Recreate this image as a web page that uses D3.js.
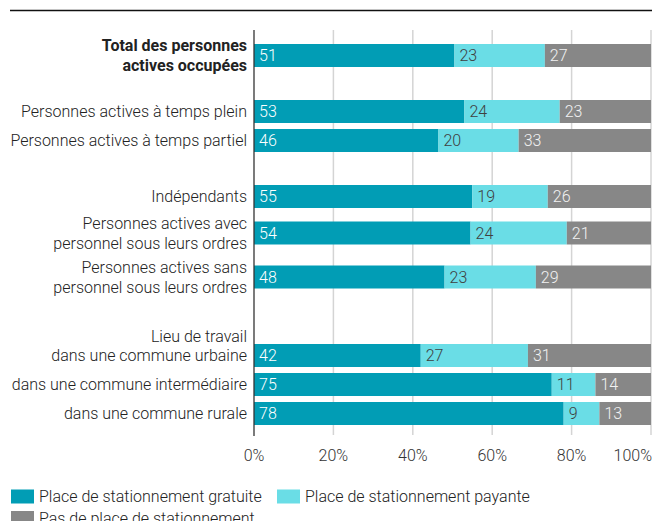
<!DOCTYPE html>
<html>
<head>
<meta charset="utf-8">
<script src="https://cdn.jsdelivr.net/npm/d3@7"></script>
<style>
  html, body { margin: 0; padding: 0; background: #fff; }
  svg { display: block; font-family: Roboto, "Noto Sans", sans-serif; }
</style>
</head>
<body>
<svg id="chart" width="655" height="521"></svg>
<script>
// Row labels (each entry is the list of text lines drawn left of the bar)
const categories = [
  "total", "plein", "partiel", "independants", "avec", "sans",
  "urbaine", "intermediaire", "rurale"
];
const labelLines = [
  ["Total des personnes", "actives occupées"],
  ["Personnes actives à temps plein"],
  ["Personnes actives à temps partiel"],
  ["Indépendants"],
  ["Personnes actives avec", "personnel sous leurs ordres"],
  ["Personnes actives sans", "personnel sous leurs ordres"],
  ["dans une commune urbaine"],
  ["dans une commune intermédiaire"],
  ["dans une commune rurale"]
];
// Optional header line printed above a row's label
const headerLines = [null, null, null, null, null, null, "Lieu de travail", null, null];
const groupOf = [0, 1, 1, 2, 2, 2, 3, 3, 3];

// Shares in percent
const gratuite = [51, 53, 46, 55, 54, 48, 42, 75, 78];
const payante  = [23, 24, 20, 19, 24, 23, 27, 11, 9];
const aucune   = [27, 23, 33, 26, 21, 29, 31, 14, 13];

const seriesKeys = ["gratuite", "payante", "aucune"];
const seriesNames = [
  "Place de stationnement gratuite",
  "Place de stationnement payante",
  "Pas de place de stationnement"
];
const xTicks = [0, 0.2, 0.4, 0.6, 0.8, 1];

// ---- style ----
const colors = { gratuite: "#019db5", payante: "#6adde6", aucune: "#878787" };
const valueColors = { gratuite: "#ffffff", payante: "#404040", aucune: "#f2f2f2" };
const fontSize = 16;

const svg = d3.select("#chart");
const left = 254, right = 651;
const barH = 23;

// ---- vertical layout: rows stacked with a gap between groups ----
const rowCenters = [];
{
  let cursor = 41;
  categories.forEach((c, i) => {
    if (i > 0 && groupOf[i] !== groupOf[i - 1]) cursor += 27;
    if (headerLines[i]) cursor += 15;
    const lines = i === 0 ? 1 : labelLines[i].length;
    const h = lines > 1 ? 44 : 29;
    rowCenters.push(cursor + h / 2);
    cursor += h;
  });
}
const yCenter = d3.scaleOrdinal().domain(categories).range(rowCenters);

const x = d3.scaleLinear().domain([0, 1]).range([left, right]);

const table = categories.map((c, i) => ({
  cat: c, gratuite: gratuite[i], payante: payante[i], aucune: aucune[i]
}));
const stacked = d3.stack().keys(seriesKeys).offset(d3.stackOffsetExpand)(table);

// ---- top rule ----
svg.append("line")
  .attr("x1", 10).attr("x2", 652).attr("y1", 10.5).attr("y2", 10.5)
  .attr("stroke", "#111").attr("stroke-width", 1.5);

// ---- gridlines ----
const gridTop = 30, gridBottom = 435;
svg.append("g").selectAll("line")
  .data(xTicks.filter(t => t > 0))
  .join("line")
  .attr("x1", d => x(d)).attr("x2", d => x(d))
  .attr("y1", gridTop).attr("y2", gridBottom)
  .attr("stroke", "#d4d4d4").attr("stroke-width", 1.5);

// ---- bars ----
const layers = svg.append("g").selectAll("g")
  .data(stacked)
  .join("g")
  .attr("fill", d => colors[d.key]);

layers.selectAll("rect")
  .data(d => d.map(v => ({ key: d.key, v })))
  .join("rect")
  .attr("x", d => x(d.v[0]))
  .attr("width", d => x(d.v[1]) - x(d.v[0]))
  .attr("y", d => yCenter(d.v.data.cat) - barH / 2)
  .attr("height", barH);

// value labels
layers.selectAll("text")
  .data(d => d.map(v => ({ key: d.key, v })))
  .join("text")
  .attr("x", d => x(d.v[0]) + 5)
  .attr("y", d => yCenter(d.v.data.cat))
  .attr("dy", "0.35em")
  .attr("fill", d => valueColors[d.key])
  .attr("font-size", fontSize)
  .attr("font-weight", 300)
  .text(d => d.v.data[d.key]);

// ---- y axis line ----
svg.append("line")
  .attr("x1", left).attr("x2", left).attr("y1", gridTop).attr("y2", gridBottom + 1)
  .attr("stroke", "#333").attr("stroke-width", 1.3);

// ---- row labels ----
const labels = svg.append("g")
  .attr("text-anchor", "end")
  .attr("fill", "#222")
  .attr("font-size", fontSize);

categories.forEach((c, i) => {
  const lines = labelLines[i];
  const lh = 20;
  const cy = yCenter(c);
  const bold = i === 0;
  const startY = cy - (lines.length - 1) * lh / 2;
  lines.forEach((ln, j) => {
    labels.append("text")
      .attr("x", 247)
      .attr("y", startY + j * lh)
      .attr("dy", "0.35em")
      .attr("font-weight", bold ? 700 : 300)
      .text(ln);
  });
  if (headerLines[i]) {
    labels.append("text")
      .attr("x", 247)
      .attr("y", cy - 19.5)
      .attr("dy", "0.35em")
      .attr("font-weight", 300)
      .text(headerLines[i]);
  }
});

// ---- x axis tick labels ----
const fmt = d3.format(".0%");
svg.append("g").selectAll("text")
  .data(xTicks)
  .join("text")
  .attr("x", d => (d === 1 ? x(d) + 1 : x(d)))
  .attr("y", 455)
  .attr("dy", "0.35em")
  .attr("text-anchor", d => (d === 1 ? "end" : "middle"))
  .attr("font-size", fontSize)
  .attr("font-weight", 300)
  .attr("fill", "#333")
  .text(d => fmt(d));

// ---- legend ----
const legendPos = [[11, 496.5], [277, 496.5], [11, 518]];
const legend = svg.append("g");
seriesKeys.forEach((k, i) => {
  const [lx, ly] = legendPos[i];
  legend.append("rect")
    .attr("x", lx).attr("y", ly - 7).attr("width", 23).attr("height", 14)
    .attr("fill", colors[k]);
  legend.append("text")
    .attr("x", lx + 28).attr("y", ly).attr("dy", "0.35em")
    .attr("font-size", fontSize).attr("font-weight", 300).attr("fill", "#222")
    .text(seriesNames[i]);
});
</script>
</body>
</html>
